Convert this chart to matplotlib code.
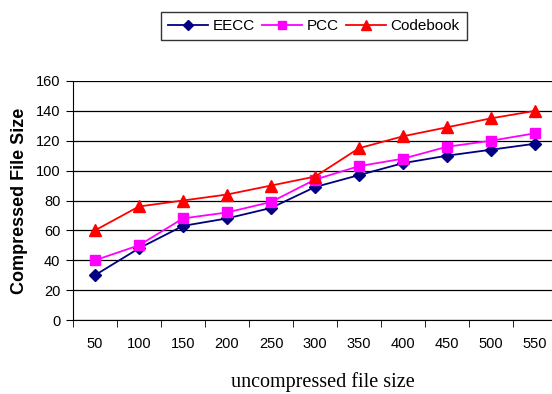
import numpy as np
import matplotlib.pyplot as plt

sizes = ['50', '100', '150', '200', '250', '300', '350', '400', '450', '500', '550']
eecc = [30, 48, 63, 68, 75, 89, 97, 105, 110, 114, 118]
pcc = [40, 50, 68, 72, 79, 94, 103, 108, 116, 120, 125]
codebook = [60, 76, 80, 84, 90, 96, 115, 123, 129, 135, 140]

plt.rcParams['font.family'] = ['Liberation Sans', 'DejaVu Sans']

fig = plt.figure(figsize=(5.52, 3.94), dpi=100)
ax = fig.add_axes([73/552, 74/394, 484/552, 239/394])

x = np.arange(len(sizes))
ax.plot(x, eecc, color='#000080', marker='D', markersize=6, lw=1.3, label='EECC')
ax.plot(x, pcc, color='#FF00FF', marker='s', markersize=7, lw=1.3, label='PCC')
ax.plot(x, codebook, color='#FF0000', marker='^', markersize=8, lw=1.3, label='Codebook')

ax.set_xlim(-0.5, len(sizes) - 0.5)
ax.set_ylim(0, 160)
ax.set_yticks(range(0, 161, 20))
ax.yaxis.grid(True, color='black', lw=0.9)
ax.set_axisbelow(True)

ax.set_xticks(x)
ax.set_xticklabels(sizes)
ax.set_xticks(np.arange(-0.5, len(sizes)), minor=True)
ax.tick_params(axis='x', which='major', length=0, pad=12, labelsize=10.5)
ax.tick_params(axis='x', which='minor', length=5, direction='out', color='black')
ax.tick_params(axis='y', length=5, direction='out', labelsize=10.5, pad=4)

for side in ['top', 'right']:
    ax.spines[side].set_visible(False)
ax.spines['left'].set_color('black')
ax.spines['bottom'].set_color('black')

ax.set_ylabel('Compressed File Size', fontsize=13, fontweight='bold', labelpad=6)
fig.text(323/552, 1 - 382/394, 'uncompressed file size', family='Liberation Serif',
         fontsize=14.5, ha='center', va='center')

leg = fig.legend(loc='center', bbox_to_anchor=(314/552, 1 - 26/394), ncol=3,
                 fontsize=11, frameon=True, fancybox=False, edgecolor='black',
                 handlelength=2.6, handletextpad=0.3, columnspacing=0.5,
                 borderpad=0.45, markerscale=0.9)
leg.get_frame().set_linewidth(1.0)

fig.savefig('out.png', dpi=100)
